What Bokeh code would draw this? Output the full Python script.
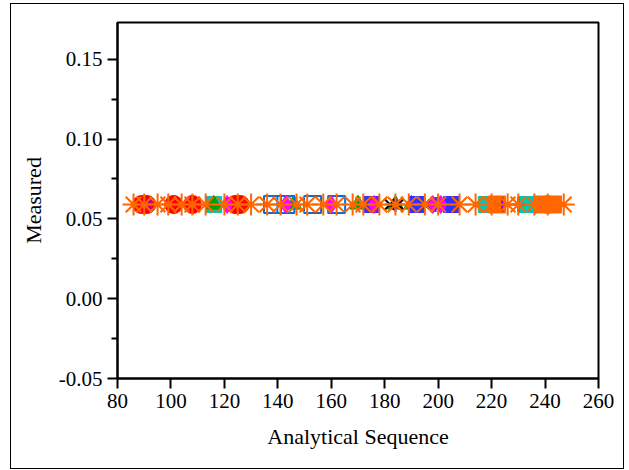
from bokeh.plotting import figure
from bokeh.embed import file_html
from bokeh.resources import INLINE
from bokeh.models import FixedTicker, Range1d

# ---- data ----
level = 0.059
asterisk_x = [86, 90, 95, 99, 104, 108, 113, 120, 125, 130, 136, 141, 147, 151, 157, 162,
              168, 172, 178, 184, 189, 195, 200, 208, 214, 220, 226, 230, 236, 241, 247]
red_circle_x = [89, 91, 101, 108, 124, 126]
magenta_diamond_x = [121, 143, 160, 176, 198, 201]
blue_open_square_x = [138, 143, 153, 162]
blue_square_x = [175, 192, 205]
black_x_x = [182, 185, 195]
green_tri_x = [116, 146, 170, 184, 190, 200]
cyan_square_x = [116, 218, 233]
orange_square_x = [222, 239, 243]
violet_x = [92, 184, 199, 224, 230]

x_ticks = [80, 100, 120, 140, 160, 180, 200, 220, 240, 260]
y_ticks = [-0.05, 0.0, 0.05, 0.10, 0.15]
y_minor = [-0.025, 0.025, 0.075, 0.125]

FONT = "Times New Roman, Liberation Serif, serif"

p = figure(width=614, height=466, output_backend="svg", toolbar_location=None,
           x_range=Range1d(80, 260), y_range=Range1d(-0.05, 0.173),
           min_border_left=106, min_border_right=27, min_border_top=18, min_border_bottom=92)
p.styles = {"border": "1px solid black", "margin-left": "10px", "margin-top": "3px"}
p.xgrid.visible = False
p.ygrid.visible = False
p.outline_line_color = "black"
p.outline_line_width = 2

def ys(xs):
    return [level] * len(xs)

p.scatter(cyan_square_x, ys(cyan_square_x), marker="square", size=16, fill_color="#00C8B4", line_color="#00C8B4")
p.scatter(green_tri_x, ys(green_tri_x), marker="triangle", size=16, fill_color="#00A000", line_color="#00A000")
p.scatter(blue_open_square_x, ys(blue_open_square_x), marker="square", size=17, fill_color=None, line_color="#0070E0", line_width=2)
p.scatter(blue_square_x, ys(blue_square_x), marker="square", size=16, fill_color="#3030FF", line_color="#3030FF")
p.scatter(orange_square_x, ys(orange_square_x), marker="square", size=17, fill_color="#FF6A00", line_color="#FF6A00")
p.scatter(red_circle_x, ys(red_circle_x), marker="circle", size=18, fill_color="#FF0000", line_color="#FF0000")
p.scatter(magenta_diamond_x, ys(magenta_diamond_x), marker="diamond", size=18, fill_color="#FF00FF", line_color="#FF00FF")
p.scatter(black_x_x, ys(black_x_x), marker="x", size=15, line_color="black", line_width=2)
p.scatter(violet_x, ys(violet_x), marker="cross", size=15, line_color="#8000FF", line_width=2)
p.scatter(asterisk_x, ys(asterisk_x), marker="asterisk", size=22, line_color="#FF6600", line_width=2)

for ax in (p.xaxis[0], p.yaxis[0]):
    ax.axis_line_width = 2
    ax.major_tick_line_width = 2
    ax.minor_tick_line_width = 2
    ax.major_tick_out = 10
    ax.major_tick_in = 0
    ax.major_label_text_font = FONT
    ax.major_label_text_font_size = "21px"
    ax.major_label_text_color = "black"
    ax.axis_label_text_font = FONT
    ax.axis_label_text_font_size = "22px"
    ax.axis_label_text_font_style = "normal"
    ax.axis_label_text_color = "black"

p.xaxis.ticker = FixedTicker(ticks=x_ticks)
p.xaxis.minor_tick_line_color = None
p.xaxis.axis_label = "Analytical Sequence"
p.xaxis.axis_label_standoff = 13

p.yaxis.ticker = FixedTicker(ticks=y_ticks, minor_ticks=y_minor)
p.yaxis.minor_tick_out = 6
p.yaxis.minor_tick_in = 0
p.yaxis.axis_label = "Measured"
p.yaxis.axis_label_standoff = 10
p.yaxis.major_label_overrides = {-0.05: "-0.05", 0.0: "0.00", 0.05: "0.05", 0.10: "0.10", 0.15: "0.15"}

open("out.html", "w").write(file_html(p, INLINE))
